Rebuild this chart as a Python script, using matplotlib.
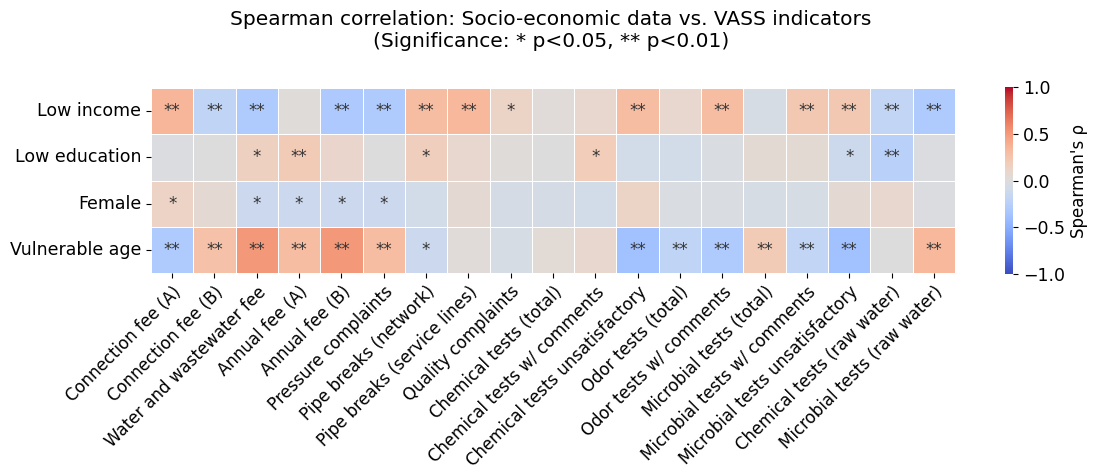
import numpy as np
import matplotlib
matplotlib.use("Agg")
import matplotlib.pyplot as plt
import seaborn as sns

rows = ["Low income", "Low education", "Female", "Vulnerable age"]
cols = ["Connection fee (A)", "Connection fee (B)", "Water and wastewater fee",
        "Annual fee (A)", "Annual fee (B)", "Pressure complaints",
        "Pipe breaks (network)", "Pipe breaks (service lines)", "Quality complaints",
        "Chemical tests (total)", "Chemical tests w/ comments",
        "Chemical tests unsatisfactory", "Odor tests (total)", "Odor tests w/ comments",
        "Microbial tests (total)", "Microbial tests w/ comments",
        "Microbial tests unsatisfactory", "Chemical tests (raw water)",
        "Microbial tests (raw water)"]

rho_low_income = [0.35, -0.20, -0.30, 0.02, -0.32, -0.30, 0.30, 0.33, 0.12, 0.03,
                  0.08, 0.30, 0.08, 0.30, -0.05, 0.22, 0.22, -0.18, -0.30]
rho_low_education = [-0.02, 0.00, 0.15, 0.20, 0.10, 0.00, 0.17, 0.08, 0.02, 0.00,
                     0.18, -0.08, -0.08, -0.03, 0.05, 0.05, -0.12, -0.25, -0.02]
rho_female = [0.13, 0.06, -0.13, -0.13, -0.13, -0.13, -0.08, 0.06, -0.06, -0.06,
              -0.08, 0.12, -0.03, -0.03, -0.05, -0.05, 0.06, 0.08, -0.02]
rho_vulnerable_age = [-0.30, 0.27, 0.50, 0.30, 0.50, 0.30, -0.13, 0.03, -0.05, 0.04,
                      0.08, -0.38, -0.20, -0.30, 0.20, -0.18, -0.38, 0.00, 0.33]

sig_low_income = ["**", "**", "**", "", "**", "**", "**", "**", "*", "",
                  "", "**", "", "**", "", "**", "**", "**", "**"]
sig_low_education = ["", "", "*", "**", "", "", "*", "", "", "",
                     "*", "", "", "", "", "", "*", "**", ""]
sig_female = ["*", "", "*", "*", "*", "*", "", "", "", "",
              "", "", "", "", "", "", "", "", ""]
sig_vulnerable_age = ["**", "**", "**", "**", "**", "**", "*", "", "", "",
                      "", "**", "**", "**", "**", "**", "**", "", "**"]

data = np.array([rho_low_income, rho_low_education, rho_female, rho_vulnerable_age])
annot = np.array([sig_low_income, sig_low_education, sig_female, sig_vulnerable_age])

W, H = 1094, 474
fig = plt.figure(figsize=(W / 100, H / 100), dpi=100)
ax = fig.add_axes([151 / W, 1 - 273 / H, (955 - 151) / W, (273 - 88) / H])
cax = fig.add_axes([1005 / W, 1 - 274 / H, 8 / W, (274 - 87) / H])

sns.heatmap(data, ax=ax, cbar_ax=cax, cmap="coolwarm", vmin=-1, vmax=1, center=0,
            annot=annot, fmt="", annot_kws={"fontsize": 12, "color": "#333333"},
            linewidths=0.5, linecolor="white",
            xticklabels=cols, yticklabels=rows,
            cbar_kws={"label": "Spearman's \u03c1", "ticks": [-1, -0.5, 0, 0.5, 1]})

ax.set_xticklabels(cols, rotation=45, ha="right", rotation_mode="anchor", fontsize=12)
ax.set_yticklabels(rows, rotation=0, fontsize=12.5)
cax.tick_params(labelsize=12.5)
cax.yaxis.label.set_size(12)
cax.set_yticklabels(["\u22121.0", "\u22120.5", "0.0", "0.5", "1.0"])

fig.suptitle("Spearman correlation: Socio-economic data vs. VASS indicators\n"
             "(Significance: * p<0.05, ** p<0.01)",
             x=551 / W, y=1 - 10 / H, fontsize=14.5, va="top")

fig.savefig("out.png", dpi=100)
